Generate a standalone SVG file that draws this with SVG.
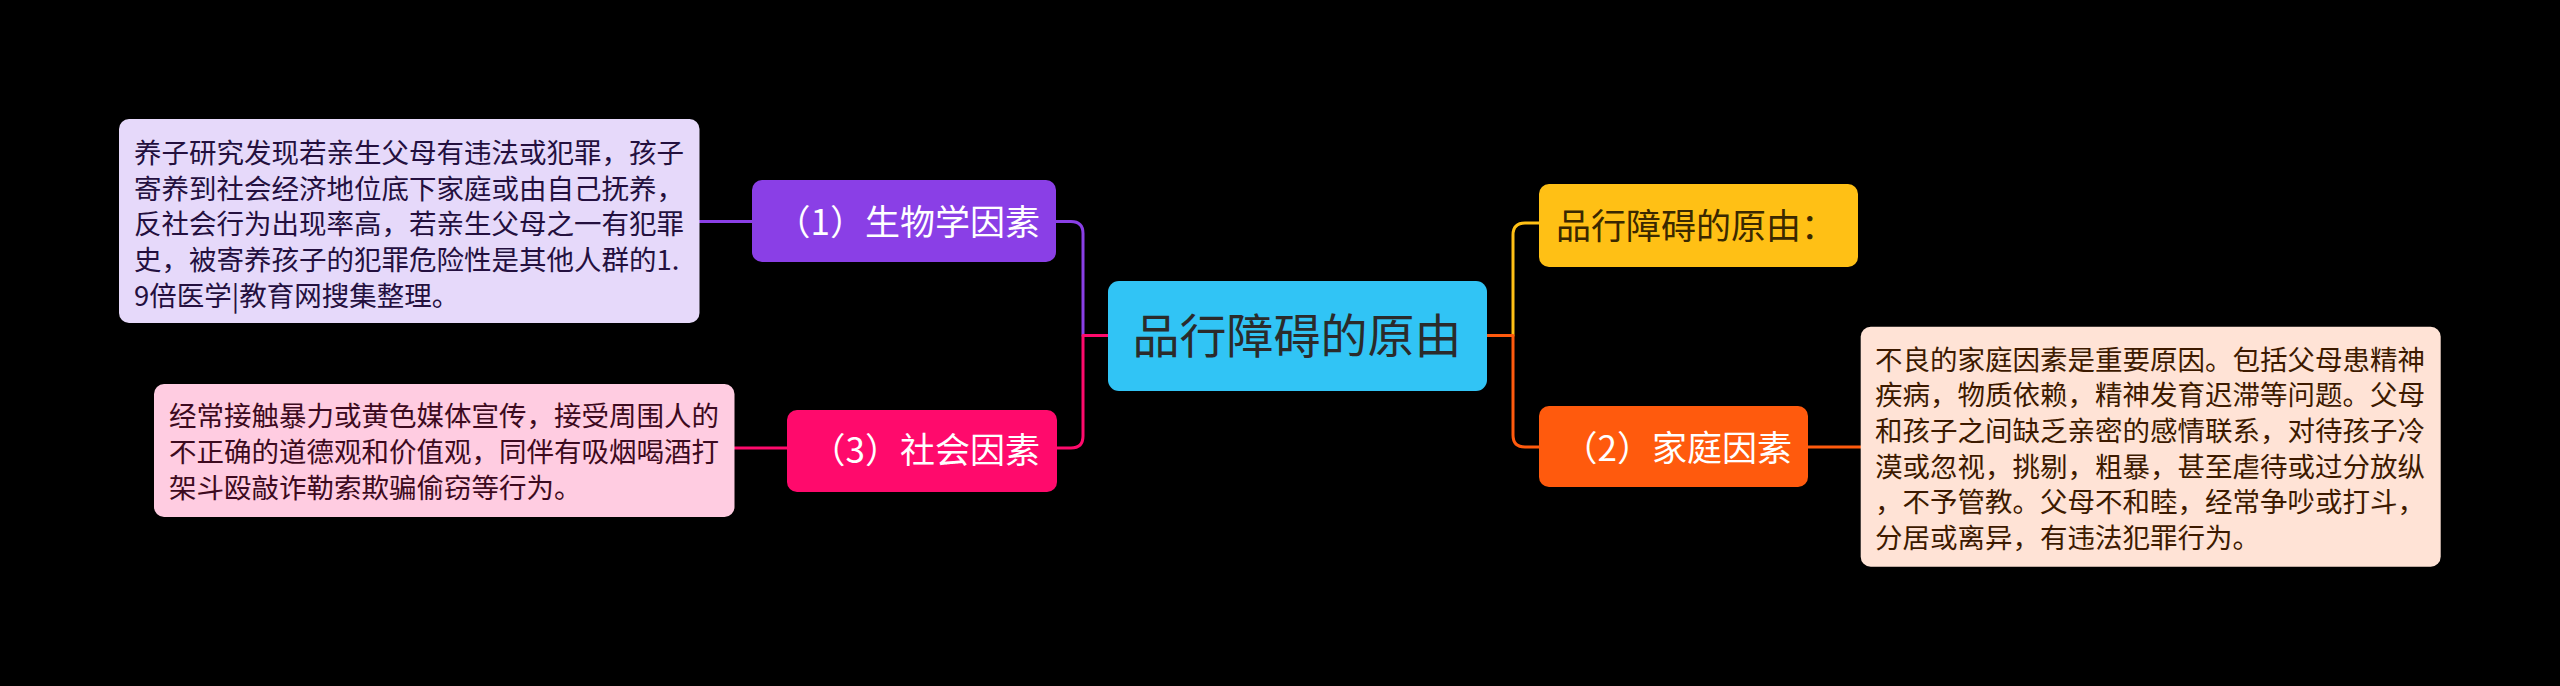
<svg xmlns="http://www.w3.org/2000/svg" width="2560" height="686" viewBox="0 0 2560 686">
<style>
text{font-family:"Noto Sans CJK SC","Noto Sans",sans-serif}
.conn{fill:none;stroke-width:3;stroke-linecap:round;stroke-linejoin:round}
.d{font-size:27.5px}
.n{font-size:35px}
</style>
<rect x="0" y="0" width="2560" height="686" fill="#000000"/>
<g id="connectors">
<path class="conn" stroke="#8A3FE6" d="M1083,335.5 V233.5 Q1083,221.5 1071,221.5 H1056"/>
<path class="conn" stroke="#FF0A6C" d="M1108,335.5 H1083 V436 Q1083,448 1071,448 H1057"/>
<path class="conn" stroke="#FFC015" d="M1513,335.5 V235 Q1513,223 1525,223 H1539"/>
<path class="conn" stroke="#FF5A0D" d="M1487,335.5 H1513 V435 Q1513,447 1525,447 H1539"/>
<path class="conn" stroke="#8A3FE6" d="M752,221.5 H699.5"/>
<path class="conn" stroke="#FF0A6C" d="M787,448 H734.5"/>
<path class="conn" stroke="#FF5A0D" d="M1808,447 H1860.7"/>
</g>
<g id="center">
<rect x="1108" y="281" width="379" height="110" rx="11" fill="#31C4F5"/>
<text x="1297" y="353" font-size="47" text-anchor="middle" fill="#2B2B2B">品行障碍的原由</text>
</g>
<g id="bio">
<rect x="752" y="180" width="304" height="82" rx="10" fill="#8A3FE6"/>
<text class="n" x="1040" y="235" text-anchor="end" fill="#FFFFFF">（1）生物学因素</text>
</g>
<g id="social">
<rect x="787" y="410" width="270" height="82" rx="10" fill="#FF0A6C"/>
<text class="n" x="1040" y="463" text-anchor="end" fill="#FFFFFF">（3）社会因素</text>
</g>
<g id="reason">
<rect x="1539" y="184" width="319" height="83" rx="10" fill="#FFC015"/>
<text class="n" x="1556" y="239" fill="#3A2800">品行障碍的原由：</text>
</g>
<g id="family">
<rect x="1539" y="406" width="269" height="81" rx="10" fill="#FF5A0D"/>
<text class="n" x="1792" y="461" text-anchor="end" fill="#FFFFFF">（2）家庭因素</text>
</g>
<g id="bio-detail">
<rect x="119" y="119" width="580.5" height="204" rx="10" fill="#E6D9FA"/>
<text class="d" fill="#24103F">
<tspan x="134" y="163">养子研究发现若亲生父母有违法或犯罪，孩子</tspan>
<tspan x="134" y="198.7">寄养到社会经济地位底下家庭或由自己抚养，</tspan>
<tspan x="134" y="234.4">反社会行为出现率高，若亲生父母之一有犯罪</tspan>
<tspan x="134" y="270.1">史，被寄养孩子的犯罪危险性是其他人群的1.</tspan>
<tspan x="134" y="305.8">9倍医学|教育网搜集整理。</tspan>
</text>
</g>
<g id="social-detail">
<rect x="154" y="384" width="580.5" height="133" rx="10" fill="#FFCCE1"/>
<text class="d" fill="#3D0A20">
<tspan x="169" y="426.2">经常接触暴力或黄色媒体宣传，接受周围人的</tspan>
<tspan x="169" y="461.9">不正确的道德观和价值观，同伴有吸烟喝酒打</tspan>
<tspan x="169" y="497.6">架斗殴敲诈勒索欺骗偷窃等行为。</tspan>
</text>
</g>
<g id="family-detail">
<rect x="1860.7" y="326.7" width="580" height="240" rx="10" fill="#FFE3D6"/>
<text class="d" fill="#3D1A00">
<tspan x="1875" y="369.5">不良的家庭因素是重要原因。包括父母患精神</tspan>
<tspan x="1875" y="405.2">疾病，物质依赖，精神发育迟滞等问题。父母</tspan>
<tspan x="1875" y="440.9">和孩子之间缺乏亲密的感情联系，对待孩子冷</tspan>
<tspan x="1875" y="476.6">漠或忽视，挑剔，粗暴，甚至虐待或过分放纵</tspan>
<tspan x="1875" y="512.3">，不予管教。父母不和睦，经常争吵或打斗，</tspan>
<tspan x="1875" y="548">分居或离异，有违法犯罪行为。</tspan>
</text>
</g>
</svg>
